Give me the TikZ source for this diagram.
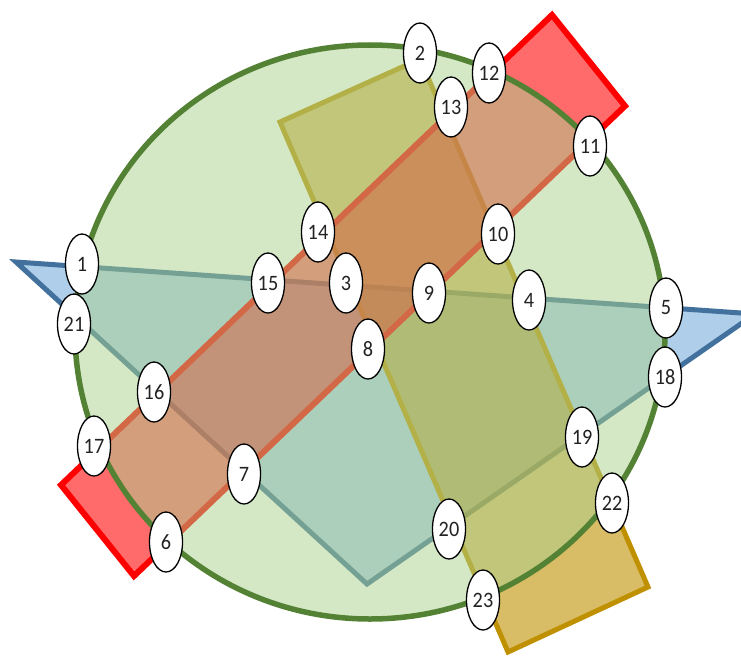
\documentclass[tikz,border=0pt]{standalone}
\usepackage{fontspec}
\newfontfamily\lblfont[FakeStretch=0.92]{Carlito}
\usetikzlibrary{shapes.geometric}
\definecolor{circfill}{HTML}{A9D18E}
\definecolor{circline}{HTML}{548235}
\definecolor{triline}{HTML}{41719C}
\definecolor{trifill}{RGB}{174,206,234}
\definecolor{yelline}{HTML}{BF9000}
\definecolor{redline}{HTML}{FF0000}
\definecolor{txt}{HTML}{222222}
\begin{document}
\begin{tikzpicture}[x=1pt,y=-1pt,
  lbl/.style={ellipse, draw=black, line width=1.3pt, fill=white,
    minimum width=33pt, minimum height=60pt, inner sep=0pt,
    font=\lblfont\fontsize{22}{22}\selectfont, text=txt},
  tri/.style={draw=triline, fill=trifill, line width=5pt, line join=miter},
  yel/.style={draw=yelline, fill=yelline, fill opacity=0.6, line width=5pt, line join=miter},
  redr/.style={draw=redline, fill=redline, fill opacity=0.58, line width=6pt, line join=miter},
  circ/.style={fill=circfill, fill opacity=0.5},
  circb/.style={draw=circline, line width=5.5pt}]
\useasboundingbox (0,0) rectangle (741,661);
\clip (0,0) rectangle (741,661);
% shapes
\draw[tri] (16,262) -- (755,314) -- (367,584) -- cycle;
\draw[yel] (280,122) -- (420,59) -- (648,587) -- (508,652) -- cycle;
\draw[redr] (61,485) -- (552,15) -- (625,106) -- (134,576) -- cycle;
\fill[circ] (370,332) ellipse [x radius=295, y radius=287];
\draw[circb] (370,332) ellipse [x radius=295, y radius=287];
% labels
\node[lbl] (n1) at (82,264) {1};
\node[lbl] (n2) at (420,53) {2};
\node[lbl] (n3) at (346,283) {3};
\node[lbl] (n4) at (529,300) {4};
\node[lbl] (n5) at (666,308) {5};
\node[lbl] (n6) at (166,542) {6};
\node[lbl] (n7) at (244,474) {7};
\node[lbl] (n8) at (368,349) {8};
\node[lbl] (n9) at (429,293) {9};
\node[lbl] (n10) at (498,234) {10};
\node[lbl] (n11) at (590,146) {11};
\node[lbl] (n12) at (489,73) {12};
\node[lbl] (n13) at (451,107) {13};
\node[lbl] (n14) at (318,232) {14};
\node[lbl] (n15) at (268,283) {15};
\node[lbl] (n16) at (154,392) {16};
\node[lbl] (n17) at (94,446) {17};
\node[lbl] (n18) at (665,377) {18};
\node[lbl] (n19) at (582,437) {19};
\node[lbl] (n20) at (449,529) {20};
\node[lbl] (n21) at (74,324) {21};
\node[lbl] (n22) at (612,503) {22};
\node[lbl] (n23) at (483,600) {23};
\end{tikzpicture}
\end{document}
